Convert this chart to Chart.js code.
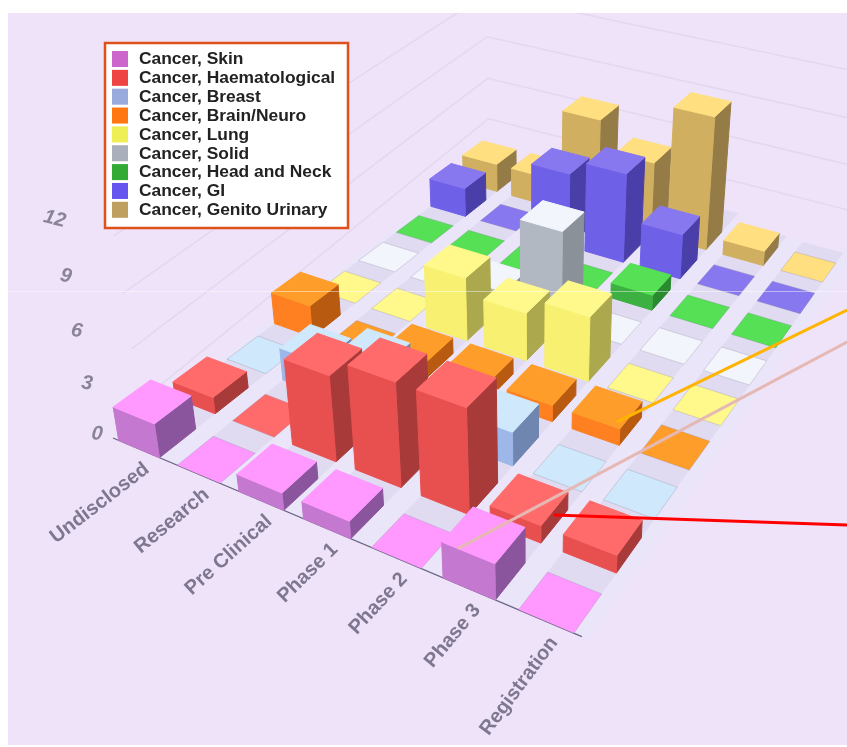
<!DOCTYPE html>
<html>
<head>
<meta charset="utf-8">
<style>html,body{margin:0;padding:0;background:#fff}canvas{display:block}</style>
<script src="https://cdn.jsdelivr.net/npm/chart.js@4/dist/chart.umd.js"></script>
</head>
<body>
<canvas id="c" width="847" height="747"></canvas>
<script>
const categories = ['Undisclosed','Research','Pre Clinical','Phase 1','Phase 2','Phase 3','Registration'];
const seriesNames = ['Cancer, Skin','Cancer, Haematological','Cancer, Breast','Cancer, Brain/Neuro','Cancer, Lung','Cancer, Solid','Cancer, Head and Neck','Cancer, GI','Cancer, Genito Urinary'];
const yTicks = [0,3,6,9,12];
const skin   = [2,0,1,1,0,2,0];
const haem   = [1,0,5,6,6,1,1];
const breast = [0,2,3,0,2,0,0];
const brain  = [2,0,1,1,1,1,0];
const lung   = [0,0,4,3,4,0,0];
const solid  = [0,0,1,6,0,0,0];
const headNeck = [0,0,0,0,1,0,0];
const gi     = [2,0,5,6,3,0,0];
const gu     = [2,2,7,5,9,1,0];
const seriesValues = [skin,haem,breast,brain,lung,solid,headNeck,gi,gu];

const legendColors = ['#cc66cc','#ee4444','#99aadd','#ff7711','#eeee55','#aab0bb','#33aa33','#6655ee','#c0a060'];
const topColors    = ['#ff99ff','#ff6b6b','#cfe8fb','#ff9d2b','#fff98c','#f2f5fc','#55e055','#8878f0','#ffdf80'];
const frontColors  = ['#c478cf','#e85050','#9cb7e8','#ff8020','#f8f070','#b2b8c2','#3cb040','#6f60e8','#d0b060'];
const sideColors   = ['#8a559c','#a83a3a','#6f86b0','#b85a10','#aca84e','#8a9199','#2a8a30','#4a3ea8','#957c46'];

// camera: floor corners on screen, where verticals meet, how far level 12 rises
const CAM = {A:[113,438], B:[590,640], C:[855,256], D:[489,158], V:[530,2900], rise:-0.0803};
const CELL = {iLo:0.1, iHi:0.8, sLo:0, sHi:0.64};
const FONT = '"Liberation Sans", Arial, sans-serif';

const H = (() => {
  const {A,B,C,D} = CAM;
  const dx1=B[0]-C[0], dx2=D[0]-C[0], sx=A[0]-B[0]+C[0]-D[0];
  const dy1=B[1]-C[1], dy2=D[1]-C[1], sy=A[1]-B[1]+C[1]-D[1];
  const den=dx1*dy2-dx2*dy1;
  const g=(sx*dy2-dx2*sy)/den, h=(dx1*sy-sx*dy1)/den;
  return {a:B[0]*(1+g)-A[0], b:D[0]*(1+h)-A[0], c:A[0], d:B[1]*(1+g)-A[1], e:D[1]*(1+h)-A[1], f:A[1], g, h};
})();

// takes pixels of the flat x, z and y scales and gives the perspective point
function project(chart, px, pz, py) {
  const ar = chart.chartArea;
  const u=(px-ar.left)/ar.width, v=(pz-ar.left)/ar.width, t=(ar.bottom-py)/ar.height*CAM.rise;
  const w=1+H.g*u+H.h*v+t;
  return [(H.a*u+H.b*v+H.c+t*CAM.V[0])/w, (H.d*u+H.e*v+H.f+t*CAM.V[1])/w];
}
// point inside a slot, fi/fs are fractions of the slot, val a y value
function slotPoint(chart, i, s, fi, fs, val) {
  const x=chart.scales.x, z=chart.scales.z, y=chart.scales.y;
  const sw=x.width/categories.length, sd=z.width/seriesNames.length;
  return project(chart, x.getPixelForValue(i)+(fi-0.5)*sw, z.getPixelForValue(s)+(fs-0.5)*sd, y.getPixelForValue(val));
}
function quad(ctx, pts, fill, stroke) {
  ctx.beginPath();
  pts.forEach((p,n)=> n?ctx.lineTo(p[0],p[1]):ctx.moveTo(p[0],p[1]));
  ctx.closePath();
  ctx.fillStyle=fill; ctx.fill();
  if (stroke) { ctx.strokeStyle=stroke; ctx.lineWidth=1; ctx.stroke(); }
}

class Bar3D extends Chart.BarController {
  draw() {
    const chart=this.chart, ctx=chart.ctx, s=this.index, vals=this.getDataset().data;
    const {iLo,iHi,sLo,sHi}=CELL;
    vals.forEach((v,i)=>{
      const P=(fi,fs,val)=>slotPoint(chart,i,s,fi,fs,val);
      if (v>0) {
        quad(ctx,[P(iHi,sLo,0),P(iHi,sHi,0),P(iHi,sHi,v),P(iHi,sLo,v)],sideColors[s],sideColors[s]);
        quad(ctx,[P(iLo,sLo,0),P(iHi,sLo,0),P(iHi,sLo,v),P(iLo,sLo,v)],frontColors[s],frontColors[s]);
      }
      quad(ctx,[P(iLo,sLo,v),P(iHi,sLo,v),P(iHi,sHi,v),P(iLo,sHi,v)],topColors[s],v>0?topColors[s]:'rgba(120,110,140,0.25)');
    });
  }
}
Bar3D.id='bar3d';
Bar3D.defaults=Chart.BarController.defaults;
Chart.register(Bar3D);

const scene = {
  id:'scene',
  beforeDraw(chart) {
    const ctx=chart.ctx;
    ctx.save();
    ctx.fillStyle='#fff'; ctx.fillRect(0,0,847,747);
    ctx.fillStyle='#efe3fa'; ctx.fillRect(8,13,839,732);
    ctx.restore();
  },
  beforeDatasetsDraw(chart) {
    const ctx=chart.ctx, yS=chart.scales.y;
    ctx.save();
    ctx.beginPath(); ctx.rect(8,13,839,732); ctx.clip();
    const nI=categories.length, nS=seriesNames.length;
    // walls
    ctx.strokeStyle='rgba(205,195,222,0.35)'; ctx.lineWidth=1.5;
    yS.ticks.forEach(t=>{
      if (t.value===0) return;
      const lv=t.value;
      const a=slotPoint(chart,0,0,0.6,0,lv), b=slotPoint(chart,0,nS-1,0,1,lv), c=slotPoint(chart,nI-1,nS-1,1,1,lv);
      ctx.beginPath(); ctx.moveTo(a[0],a[1]); ctx.lineTo(b[0],b[1]); ctx.lineTo(c[0],c[1]); ctx.stroke();
    });
    // floor and the soft shadows behind the cells
    quad(ctx,[slotPoint(chart,0,0,0,0,0),slotPoint(chart,nI-1,0,1,0,0),slotPoint(chart,nI-1,nS-1,1,1,0),slotPoint(chart,0,nS-1,0,1,0)],'#ebe5fa');
    for (let s=nS-1;s>=0;s--) for (let i=0;i<nI;i++) {
      const P=(fi,fs)=>slotPoint(chart,i,s,fi,fs,0);
      const back=1+seriesValues[s][i]*0.04;
      quad(ctx,[P(CELL.iLo,CELL.sHi),P(CELL.iHi,CELL.sHi),P(CELL.iHi,back),P(CELL.iLo,back)],'#e0dbf1');
    }
    // axis line and labels
    const p0=slotPoint(chart,0,0,0,0,0), p1=slotPoint(chart,nI-1,0,0.9,0,0);
    ctx.strokeStyle='#6a6484'; ctx.lineWidth=1.3;
    ctx.beginPath(); ctx.moveTo(p0[0],p0[1]); ctx.lineTo(p1[0],p1[1]); ctx.stroke();
    ctx.fillStyle='#7d7890';
    ctx.font='bold 20px '+FONT; ctx.textAlign='right'; ctx.textBaseline='middle';
    categories.forEach((name,i)=>{
      const a=slotPoint(chart,i,0,0.45,0,0), b=slotPoint(chart,i,1,0.45,0,0);
      ctx.save();
      ctx.translate(a[0]+8,a[1]+18);
      ctx.rotate(Math.atan2(b[1]-a[1],b[0]-a[0]));
      ctx.fillText(name,0,0);
      ctx.restore();
    });
    ctx.fillStyle='#8a8498';
    ctx.font='italic bold 20px '+FONT; ctx.textAlign='center';
    yTicks.forEach(v=>{
      const a=slotPoint(chart,0,0,0,0,v);
      ctx.save();
      ctx.translate(a[0]-16-v*0.5,a[1]-4);
      ctx.rotate(0.1+v*0.012);
      ctx.fillText(String(v),0,0);
      ctx.restore();
    });
    ctx.restore();
  },
  afterDraw(chart) {
    const ctx=chart.ctx;
    ctx.save();
    // legend
    const colN=seriesNames.length;
    ctx.fillStyle='#fff'; ctx.fillRect(105,43,243,185);
    ctx.strokeStyle='#e0501a'; ctx.lineWidth=2.5; ctx.strokeRect(105,43,243,185);
    ctx.font='bold 17.4px '+FONT; ctx.textAlign='left'; ctx.textBaseline='middle';
    for (let n=0;n<colN;n++) {
      const yy=59+n*18.85;
      ctx.fillStyle=legendColors[n]; ctx.fillRect(112,yy-8,16,16);
      ctx.fillStyle='#222'; ctx.fillText(seriesNames[n],139,yy+0.5);
    }
    // leader lines
    const lines=[
      [slotPoint(chart,5,3,0.7,0.1,brain[5]),[847,310],'#ffb400'],
      [slotPoint(chart,5,0,0.315,0,skin[5]),[847,342],'#e6b8b4'],
      [slotPoint(chart,5,1,0.8,0.3,haem[5]*0.7),[847,525],'#ff0000']
    ];
    ctx.lineWidth=3;
    lines.forEach(l=>{ctx.strokeStyle=l[2];ctx.beginPath();ctx.moveTo(l[0][0],l[0][1]);ctx.lineTo(l[1][0],l[1][1]);ctx.stroke();});
    // faint scan line in the source picture
    ctx.strokeStyle='rgba(255,255,255,0.45)'; ctx.lineWidth=1;
    ctx.beginPath(); ctx.moveTo(8,291.5); ctx.lineTo(847,291.5); ctx.stroke();
    ctx.restore();
  }
};

new Chart(document.getElementById('c'), {
  type:'bar3d',
  data:{
    labels:categories,
    datasets:seriesNames.map((n,s)=>({label:n,data:seriesValues[s],backgroundColor:legendColors[s]}))
  },
  options:{
    responsive:false, animation:false,
    layout:{padding:0},
    plugins:{legend:{display:false},tooltip:{enabled:false}},
    scales:{
      x:{type:'category',offset:true,display:false},
      z:{type:'category',axis:'x',labels:seriesNames,offset:true,display:false},
      y:{type:'linear',min:0,max:12,display:false,afterBuildTicks:sc=>{sc.ticks=yTicks.map(v=>({value:v}));}}
    }
  },
  plugins:[scene]
});
</script>
</body>
</html>
